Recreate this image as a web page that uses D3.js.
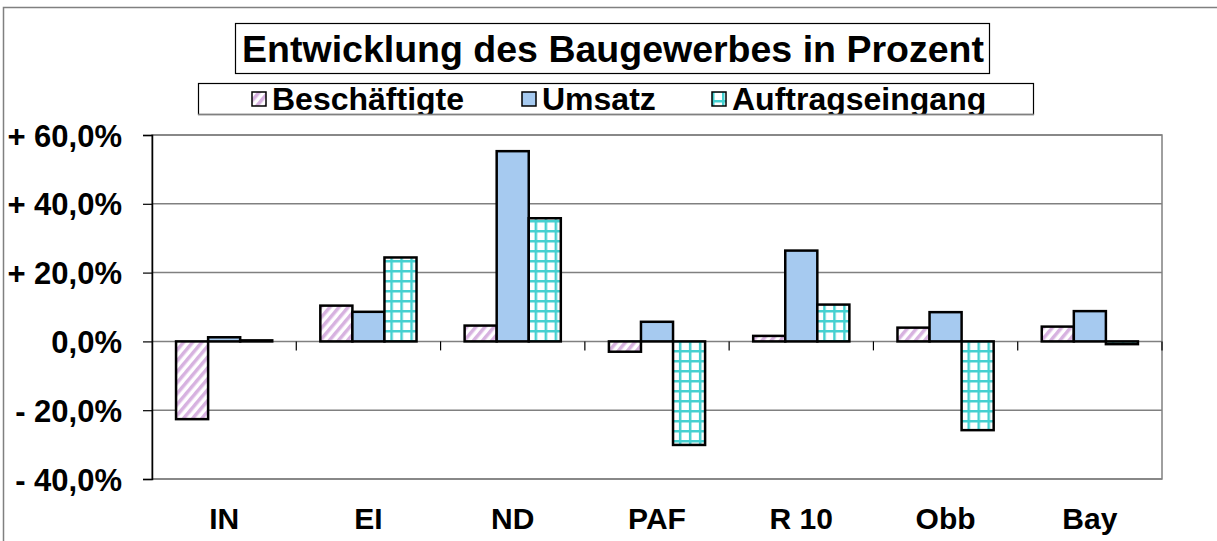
<!DOCTYPE html>
<html>
<head>
<meta charset="utf-8">
<script src="https://cdn.jsdelivr.net/npm/d3@7"></script>
<style>
  body { margin: 0; background: #fff; }
  text { font-family: "Liberation Sans", Arial, sans-serif; font-weight: bold; fill: #000; }
</style>
</head>
<body>
<div id="plot"></div>
<script>
// data
var categories = ["IN", "EI", "ND", "PAF", "R 10", "Obb", "Bay"];
var seriesNames = ["Beschäftigte", "Umsatz", "Auftragseingang"];
var beschaeftigte = [-22.6, 10.4, 4.6, -3.0, 1.6, 4.0, 4.3];
var umsatz = [1.2, 8.6, 55.3, 5.7, 26.4, 8.5, 8.8];
var auftragseingang = [0.3, 24.4, 35.8, -30.1, 10.7, -25.8, -0.8];
var tickValues = [60, 40, 20, 0, -20, -40];
var tickLabels = ["+ 60,0%", "+ 40,0%", "+ 20,0%", "0,0%", "- 20,0%", "- 40,0%"];
var title = "Entwicklung des Baugewerbes in Prozent";

var W = 1217, H = 541;
var plot = {left: 152, right: 1162, top: 135, bottom: 479};

var svg = d3.select("#plot").append("svg")
    .attr("width", W)
    .attr("height", H);

// patterns
var defs = svg.append("defs");
var stripes = defs.append("pattern")
    .attr("id", "stripes")
    .attr("patternUnits", "userSpaceOnUse")
    .attr("width", 7).attr("height", 7)
    .attr("patternTransform", "rotate(40)");
stripes.append("rect").attr("width", 7).attr("height", 7).attr("fill", "#fff");
stripes.append("rect").attr("width", 3.5).attr("height", 7).attr("fill", "#d7b2e0");

var grid = defs.append("pattern")
    .attr("id", "grid")
    .attr("patternUnits", "userSpaceOnUse")
    .attr("width", 10).attr("height", 10);
grid.append("rect").attr("width", 10).attr("height", 10).attr("fill", "#fff");
grid.append("rect").attr("x", 0).attr("width", 2.5).attr("height", 10).attr("fill", "#45d0d0");
grid.append("rect").attr("y", 0).attr("width", 10).attr("height", 2.5).attr("fill", "#45d0d0");

var fills = ["url(#stripes)", "#a6caf0", "url(#grid)"];

// chart area border (only left and top visible)
svg.append("rect")
    .attr("x", 3.5).attr("y", 7.5)
    .attr("width", 1400).attr("height", 700)
    .attr("fill", "none")
    .attr("stroke", "#808080")
    .attr("stroke-width", 1.5);

// scales
var x0 = d3.scaleBand().domain(categories).range([plot.left, plot.right]);
var step = x0.bandwidth();
var barW = step / 4.5;
var x1 = d3.scaleBand().domain(seriesNames).range([0, 3 * barW]);
var y = d3.scaleLinear().domain([-40, 60]).range([plot.bottom, plot.top]);

// gridlines
svg.append("g")
  .selectAll("line")
    .data(tickValues)
  .enter().append("line")
    .attr("x1", plot.left).attr("x2", plot.right)
    .attr("y1", function(d) { return y(d); })
    .attr("y2", function(d) { return y(d); })
    .attr("stroke", "#808080")
    .attr("stroke-width", 1.5);

// plot border
svg.append("rect")
    .attr("x", plot.left).attr("y", plot.top)
    .attr("width", plot.right - plot.left).attr("height", plot.bottom - plot.top)
    .attr("fill", "none")
    .attr("stroke", "#808080")
    .attr("stroke-width", 1.5);

// y axis
var yAxis = svg.append("g")
    .attr("transform", "translate(" + plot.left + ",0)")
    .call(d3.axisLeft(y).tickValues(tickValues).tickSize(9).tickPadding(21)
        .tickFormat(function(d, i) { return tickLabels[i]; }));
yAxis.select(".domain").attr("stroke", "#000").attr("stroke-width", 1.5);
yAxis.selectAll(".tick line").attr("stroke", "#000").attr("stroke-width", 1.2);
yAxis.selectAll(".tick text")
    .style("font-size", "31px")
    .attr("dy", "0.36em")
    .attr("fill", "#000");

// x ticks at category boundaries on the zero line
svg.append("g")
  .selectAll("line")
    .data(categories.slice(1).concat(["end"]))
  .enter().append("line")
    .attr("x1", function(d, i) { return plot.left + step * (i + 1); })
    .attr("x2", function(d, i) { return plot.left + step * (i + 1); })
    .attr("y1", y(0)).attr("y2", y(0) + 9)
    .attr("stroke", "#000")
    .attr("stroke-width", 1.2);

// bars
var seriesData = [beschaeftigte, umsatz, auftragseingang];
var groups = svg.append("g")
  .selectAll("g")
    .data(categories)
  .enter().append("g")
    .attr("transform", function(d) { return "translate(" + (x0(d) + (step - 3 * barW) / 2) + ",0)"; });

groups.selectAll("rect")
    .data(function(d, i) { return seriesNames.map(function(s, j) { return {s: s, j: j, v: seriesData[j][i]}; }); })
  .enter().append("rect")
    .attr("x", function(d) { return x1(d.s); })
    .attr("width", x1.bandwidth())
    .attr("y", function(d) { return y(Math.max(0, d.v)); })
    .attr("height", function(d) { return Math.abs(y(d.v) - y(0)); })
    .attr("fill", function(d) { return fills[d.j]; })
    .attr("stroke", "#000")
    .attr("stroke-width", 2.5);

// category labels
svg.append("g")
  .selectAll("text")
    .data(categories)
  .enter().append("text")
    .attr("x", function(d) { return x0(d) + step / 2; })
    .attr("y", 529)
    .attr("text-anchor", "middle")
    .style("font-size", "30px")
    .text(function(d) { return d; });

// title box
svg.append("rect")
    .attr("x", 235.5).attr("y", 23.5)
    .attr("width", 754).attr("height", 50)
    .attr("fill", "#fff")
    .attr("stroke", "#000")
    .attr("stroke-width", 1.2);
svg.append("text")
    .attr("x", 613).attr("y", 62)
    .attr("text-anchor", "middle")
    .style("font-size", "37.5px")
    .text(title);

// legend box
defs.append("clipPath").attr("id", "legclip")
  .append("rect").attr("x", 198).attr("y", 83).attr("width", 835).attr("height", 31);
svg.append("rect")
    .attr("x", 198.5).attr("y", 83.5)
    .attr("width", 835).attr("height", 31)
    .attr("fill", "#fff")
    .attr("stroke", "#000")
    .attr("stroke-width", 1.2);
var legX = [252, 522, 712];
var leg = svg.append("g").attr("clip-path", "url(#legclip)")
  .selectAll("g")
    .data(seriesNames)
  .enter().append("g")
    .attr("transform", function(d, i) { return "translate(" + legX[i] + ",0)"; });
leg.append("rect")
    .attr("x", 0).attr("y", 92)
    .attr("width", 14).attr("height", 14)
    .attr("fill", function(d, i) { return fills[i]; })
    .attr("stroke", "#000")
    .attr("stroke-width", 1.5);
leg.append("text")
    .attr("x", 20).attr("y", 110)
    .style("font-size", "32px")
    .text(function(d) { return d; });
svg.append("line")
    .attr("x1", 198).attr("x2", 1034)
    .attr("y1", 114.5).attr("y2", 114.5)
    .attr("stroke", "#808080")
    .attr("stroke-width", 1.5);
</script>
</body>
</html>
